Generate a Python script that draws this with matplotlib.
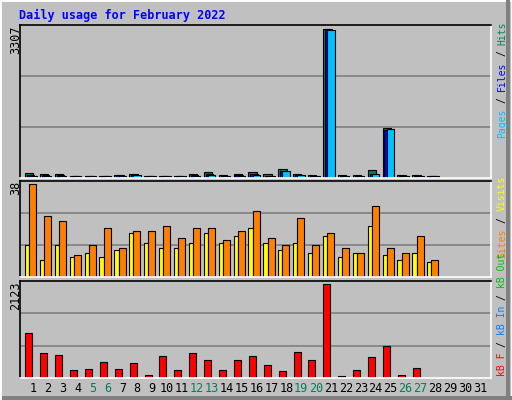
import matplotlib
matplotlib.use("Agg")
import matplotlib.pyplot as plt
from matplotlib.patches import Rectangle

days = list(range(1, 32))
ndata = 28
hits  = [100, 80, 80, 35, 55, 55, 75, 80, 55, 55, 55, 80, 140, 60, 80, 140, 80, 210, 80, 60, 3307, 60, 60, 170, 1110, 60, 60, 37]
files = [75, 60, 75, 35, 40, 40, 60, 70, 40, 45, 40, 70, 80, 50, 60, 90, 45, 165, 60, 45, 3307, 45, 45, 90, 1060, 45, 45, 37]
pages = [45, 45, 45, 35, 40, 40, 50, 75, 40, 40, 40, 55, 75, 52, 45, 75, 40, 165, 60, 40, 3280, 40, 40, 90, 1090, 40, 40, 37]
visits = [13, 7, 13, 8, 10, 8, 11, 18, 14, 12, 12, 14, 18, 14, 17, 20, 14, 11, 14, 10, 17, 8, 10, 21, 9, 7, 10, 6]
sites  = [38, 25, 23, 9, 13, 20, 12, 19, 19, 21, 16, 20, 20, 15, 19, 27, 16, 13, 24, 13, 18, 12, 10, 29, 12, 10, 17, 7]
kbytes = [1026, 560, 513, 187, 210, 373, 210, 334, 70, 490, 187, 560, 397, 187, 397, 490, 303, 163, 583, 397, 2123, 47, 187, 467, 723, 70, 233, 10]
weekends = [5, 6, 12, 13, 19, 20, 26, 27]
title = "Daily usage for February 2022"

W, H = 512, 400
BG = "#c0c0c0"
fig = plt.figure(figsize=(W/100, H/100), dpi=100, facecolor=BG)
mono = "DejaVu Sans Mono"

# frame
fig.patches.append(Rectangle((0, 0), 1, 1, transform=fig.transFigure, fc="none", ec="white", lw=2))
fig.patches.append(Rectangle((2/W, 0), 1-2/W, 4/H, transform=fig.transFigure, fc="#808080", ec="none"))
fig.patches.append(Rectangle((1-6/W, 0), 4/W, 1, transform=fig.transFigure, fc="#808080", ec="none"))

def ax_px(x0, y0, x1, y1):
    a = fig.add_axes([x0/W, 1-y1/H, (x1-x0)/W, (y1-y0)/H])
    a.set_facecolor(BG)
    for s in ("left", "top"):
        a.spines[s].set_color("black"); a.spines[s].set_linewidth(1.2)
    for s in ("right", "bottom"):
        a.spines[s].set_color("white"); a.spines[s].set_linewidth(1.2)
    a.set_xlim(0.128, 31.74)
    a.set_xticks([]); a.set_yticks([])
    return a

fig.text(19/W, 1-15/H, title, color="#0000ff", fontsize=8.5, fontweight="bold", family=mono, va="center")

x = [d for d in days[:ndata]]

def grid(a, top):
    for f in (1/3, 2/3):
        a.axhline(top*f, color="#808080", lw=1.2, zorder=0)

# top panel
a1 = ax_px(20, 25, 491, 178)
top1 = 3307*152/148
a1.set_ylim(0, top1); grid(a1, top1)
a1.bar([d-0.26 for d in x], hits, width=0.56, color="#00805c", ec="black", lw=0.8)
a1.bar([d-0.16 for d in x], files, width=0.5, color="#0000ff", ec="black", lw=0.8)
a1.bar([d-0.01 for d in x], pages, width=0.5, color="#00c0ff", ec="black", lw=0.8)

# middle
a2 = ax_px(20, 180.7, 491, 277)
top2 = 38*95.3/91.7
a2.set_ylim(0, top2); grid(a2, top2)
a2.bar([d-0.40 for d in x], visits, width=0.28, color="#ffff00", ec="black", lw=0.8)
a2.bar([d-0.02 for d in x], sites, width=0.47, color="#ff8000", ec="black", lw=0.8)

# bottom
a3 = ax_px(20, 280.7, 491, 378)
top3 = 2123*97.3/93.7
a3.set_ylim(0, top3); grid(a3, top3)
a3.bar([d-0.28 for d in x], kbytes, width=0.47, color="#ff0000", ec="black", lw=0.8)

# max labels
for ylab, txt in ((25, "3307"), (181, "38"), (281, "2123")):
    fig.text(16/W, 1-ylab/H, txt, rotation=90, fontsize=8.5, family=mono, ha="center", va="top")

# day labels
for d in days:
    px = 33 + 14.9*(d-1)
    fig.text(px/W, 1-389/H, str(d), fontsize=8.5, family=mono, ha="center", va="center",
             color="#00805c" if d in weekends else "black")

FS = 7
CW = 0.6*FS*100/72

def vlabel(parts, ybottom, xc=502):
    # parts reading bottom->top; placed char by char count
    y = ybottom
    for txt, col in parts:
        core = txt.strip()
        lead = len(txt) - len(txt.lstrip())
        fig.text(xc/W, 1-(y - lead*CW)/H, core, rotation=90, fontsize=FS, family=mono, color=col,
                 ha="center", va="bottom")
        y -= CW*len(txt)

vlabel([("Pages", "#00c0ff"), (" / ", "black"), ("Files", "#0000ff"), (" / ", "black"), ("Hits", "#00805c")], 138)
vlabel([("Sites", "#ff8000"), (" / ", "black"), ("Visits", "#ffff00")], 258)
vlabel([("kB F", "#ff0000"), (" / ", "black"), ("kB In", "#0080ff"), (" / ", "black"), ("kB Out", "#00c000")], 376)

fig.savefig("out.png", dpi=100, facecolor=BG)
